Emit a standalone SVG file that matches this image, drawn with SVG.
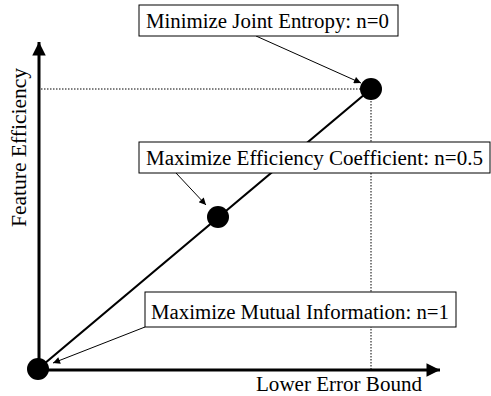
<svg xmlns="http://www.w3.org/2000/svg" width="491" height="396" viewBox="0 0 491 396">
<style>
.box{fill:#fff;stroke:#000;stroke-width:1}
.dot{fill:#000}
.dotted{stroke:#000;stroke-width:1;stroke-dasharray:1.5 1.5;fill:none}
.axis{stroke:#000;stroke-width:3;fill:none}
.thin{stroke:#000;stroke-width:1;fill:none}
</style>
<defs>
<marker id="big" viewBox="0 0 10 10" refX="10" refY="5" markerWidth="5" markerHeight="4.5" orient="auto" markerUnits="strokeWidth"><path d="M0,0 L10,5 L0,10 z" fill="#000"/></marker>
<marker id="small" viewBox="0 0 10 10" refX="10" refY="5" markerWidth="9" markerHeight="7" orient="auto" markerUnits="strokeWidth"><path d="M0,0 L10,5 L0,10 z" fill="#000"/></marker>
</defs>
<g id="connectors">
<line class="dotted" x1="41" y1="89" x2="371" y2="89"/>
<line class="dotted" x1="371" y1="89" x2="371" y2="369"/>
<line class="axis" x1="39" y1="370" x2="39" y2="42" marker-end="url(#big)"/>
<line class="axis" x1="38" y1="370" x2="440" y2="370" marker-end="url(#big)"/>
<line x1="38" y1="369" x2="371" y2="89" stroke="#000" stroke-width="2.2"/>
<line class="thin" x1="256" y1="36" x2="361" y2="83" marker-end="url(#small)"/>
<line class="thin" x1="176" y1="173" x2="206" y2="205" marker-end="url(#small)"/>
<line class="thin" x1="145" y1="327" x2="53" y2="363" marker-end="url(#small)"/>
</g>
<g id="dot-n0"><circle class="dot" cx="371" cy="89" r="11"/></g>
<g id="dot-n05"><circle class="dot" cx="218" cy="217" r="11"/></g>
<g id="dot-n1"><circle class="dot" cx="38" cy="369" r="11"/></g>
<g font-family="'Liberation Serif', 'Times New Roman', serif" font-size="20" fill="#000">
<g id="label-n0"><rect class="box" x="139" y="5" width="259" height="31"/><text x="146" y="28" textLength="243" lengthAdjust="spacingAndGlyphs">Minimize Joint Entropy: n=0</text></g>
<g id="label-n05"><rect class="box" x="139" y="142" width="351" height="31"/><text x="146" y="165" textLength="337" lengthAdjust="spacingAndGlyphs">Maximize Efficiency Coefficient: n=0.5</text></g>
<g id="label-n1"><rect class="box" x="145" y="292" width="311" height="35"/><text x="151" y="319" textLength="298" lengthAdjust="spacingAndGlyphs">Maximize Mutual Information: n=1</text></g>
<g id="axis-labels">
<text x="256" y="391" textLength="166" lengthAdjust="spacingAndGlyphs">Lower Error Bound</text>
<text transform="translate(26,227) rotate(-90)" textLength="159" lengthAdjust="spacingAndGlyphs">Feature Efficiency</text>
</g>
</g>
</svg>
